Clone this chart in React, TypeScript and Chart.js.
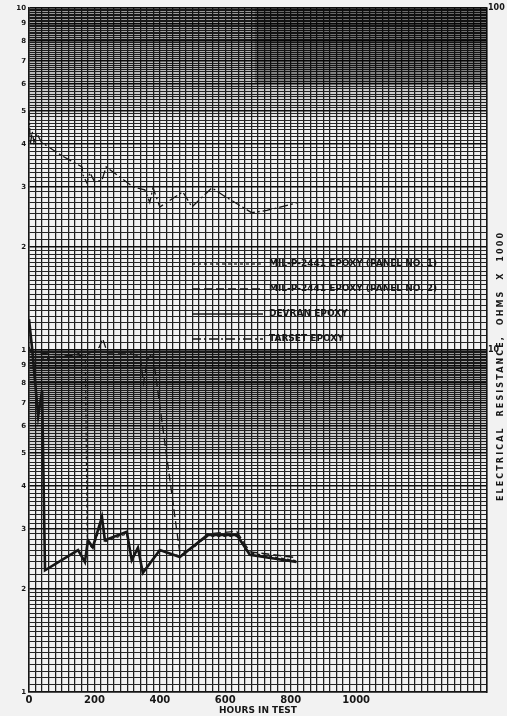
import { useEffect, useRef } from 'react';
import { Chart, registerables } from 'chart.js';

Chart.register(...registerables);

// ---- data (hours in test vs electrical resistance, ohms x 1000) ----
const xTickLabels = ['0', '200', '400', '600', '800', '1000'];
const rightTickLabels = ['10', '100'];

const panel1Hours = [0, 15, 40, 80, 120, 160, 172, 178, 195, 223, 232, 299, 314, 333, 348, 400, 461, 546, 635, 675, 818];
const panel1Values = [10.2, 9.6, 9.4, 9.5, 9.6, 9.8, 9.9, 2.75, 2.62, 3.15, 2.75, 2.9, 2.45, 2.62, 2.25, 2.58, 2.5, 2.85, 2.85, 2.55, 2.42];

const panel2Hours = [0, 30, 80, 150, 200, 215, 225, 240, 300, 340, 350, 362, 378, 461, 500, 546, 635, 675, 818];
const panel2Values = [10.0, 9.8, 9.7, 9.6, 9.9, 10.2, 10.8, 9.8, 9.8, 9.6, 8.0, 9.4, 9.8, 2.55, 2.62, 2.9, 2.95, 2.57, 2.47];

const devranHours = [0, 10, 28, 40, 49, 150, 171, 180, 195, 223, 232, 299, 314, 333, 348, 400, 461, 546, 635, 675, 818];
const devranValues = [12.3, 10.0, 6.4, 7.6, 2.27, 2.6, 2.4, 2.78, 2.65, 3.25, 2.78, 2.94, 2.43, 2.64, 2.23, 2.6, 2.48, 2.88, 2.88, 2.52, 2.4];

const tarsetHours = [0, 4, 10, 15, 24, 38, 100, 162, 165, 177, 186, 201, 223, 236, 318, 354, 369, 379, 400, 470, 498, 559, 592, 681, 727, 818];
const tarsetValues = [50, 40, 43.5, 40.5, 43, 40.5, 37, 34.3, 32.5, 30.8, 33.0, 31.0, 31.4, 34.3, 30.0, 29.4, 27.0, 29.8, 26.2, 29.0, 26.2, 29.8, 28.4, 25.2, 25.6, 26.9];

const seriesNames = [
  'MIL-P-2441 EPOXY (PANEL NO. 1)',
  'MIL-P-2441 EPOXY (PANEL NO. 2)',
  'DEVRAN EPOXY',
  'TARSET EPOXY',
];

const FONT = '"DejaVu Sans", "Liberation Sans", sans-serif';
const INK = '#161616';

function yGridValues(): number[] {
  const out: number[] = [];
  for (const d of [1, 10]) {
    for (let i = 0; i < 20; i++) out.push(d * (1 + i * 0.05));
    for (let i = 0; i < 30; i++) out.push(d * (2 + i * 0.1));
    for (let i = 0; i < 50; i++) out.push(d * (5 + i * 0.1));
  }
  out.push(100);
  return out.map((v) => Math.round(v * 1000) / 1000);
}

function xGridValues(): number[] {
  const out: number[] = [];
  for (let h = 0; h <= 1400; h += 20) out.push(h);
  return out;
}

const isWhole = (v: number) => Math.abs(v - Math.round(v)) < 1e-6;

function leftLabel(v: number): string {
  if (v < 10) return isWhole(v) ? String(Math.round(v)) : '';
  const t = v / 10;
  return isWhole(t) ? String(Math.round(t)) : '';
}

const pts = (hs: number[], vs: number[]) => hs.map((h, i) => ({ x: h, y: vs[i] }));

const backgroundPlugin = {
  id: 'paper',
  beforeDraw(chart: any) {
    const { ctx, width, height } = chart;
    ctx.save();
    ctx.fillStyle = '#f2f2f2';
    ctx.fillRect(0, 0, width, height);
    ctx.restore();
  },
  beforeDatasetsDraw(chart: any) {
    const { ctx, scales, chartArea } = chart;
    const x = scales.x;
    const y = scales.y;
    ctx.save();
    // scanned-paper darkening of the dense top of each decade
    for (const d of [10, 1]) {
      const yTop = y.getPixelForValue(d * 10);
      const yMid = y.getPixelForValue(d * 6);
      const yEnd = y.getPixelForValue(d * 4.5);
      const g = ctx.createLinearGradient(0, yTop, 0, yEnd);
      g.addColorStop(0, 'rgba(0,0,0,0.38)');
      g.addColorStop((yMid - yTop) / (yEnd - yTop), 'rgba(0,0,0,0.2)');
      g.addColorStop(1, 'rgba(0,0,0,0)');
      ctx.fillStyle = g;
      ctx.fillRect(chartArea.left, yTop, chartArea.right - chartArea.left, yEnd - yTop);
    }
    ctx.fillStyle = 'rgba(0,0,0,0.3)';
    const x0 = x.getPixelForValue(690);
    const x1 = x.getPixelForValue(1400);
    const y0 = y.getPixelForValue(100);
    const y1 = y.getPixelForValue(60);
    ctx.fillRect(x0, y0, x1 - x0, y1 - y0);
    ctx.restore();
  },
};

const legendPlugin = {
  id: 'innerLegend',
  afterDatasetsDraw(chart: any) {
    const { ctx } = chart;
    const rows = [264, 289, 314, 339];
    ctx.save();
    chart.data.datasets.forEach((ds: any, i: number) => {
      const yy = rows[i];
      ctx.strokeStyle = INK;
      ctx.lineWidth = Math.min(ds.borderWidth, 1.6);
      ctx.setLineDash(ds.borderDash || []);
      ctx.beginPath();
      ctx.moveTo(192, yy);
      ctx.lineTo(263, yy);
      ctx.stroke();
      ctx.setLineDash([]);
      ctx.fillStyle = INK;
      ctx.font = `bold 9px ${FONT}`;
      ctx.textBaseline = 'middle';
      ctx.textAlign = 'left';
      ctx.fillText(ds.label, 269, yy);
    });
    ctx.restore();
  },
  afterDraw(chart: any) {
    const { ctx } = chart;
    const text = 'ELECTRICAL  RESISTANCE,  OHMS  X  1000';
    ctx.save();
    ctx.font = `bold 8px ${FONT}`;
    ctx.fillStyle = INK;
    const w = ctx.measureText(text).width;
    const target = 268;
    const spacing = Math.max(0, (target - w) / (text.length - 1));
    (ctx as any).letterSpacing = `${spacing}px`;
    ctx.translate(501, 366);
    ctx.rotate(-Math.PI / 2);
    ctx.textAlign = 'center';
    ctx.textBaseline = 'middle';
    ctx.fillText(text, 0, 0);
    ctx.restore();
  },
};

export default function App() {
  const ref = useRef<HTMLCanvasElement | null>(null);

  useEffect(() => {
    if (!ref.current) return;
    const yGrid = yGridValues();
    const xGrid = xGridValues();
    const base = { borderColor: INK, pointRadius: 0, tension: 0, fill: false, yAxisID: 'y' };
    const chart = new Chart(ref.current, {
      type: 'line',
      data: {
        datasets: [
          { ...base, label: seriesNames[0], data: pts(panel1Hours, panel1Values), borderWidth: 1.2, borderDash: [3, 3] },
          { ...base, label: seriesNames[1], data: pts(panel2Hours, panel2Values), borderWidth: 1.3, borderDash: [8, 4] },
          { ...base, label: seriesNames[2], data: pts(devranHours, devranValues), borderWidth: 2.6, borderDash: [] },
          { ...base, label: seriesNames[3], data: pts(tarsetHours, tarsetValues), borderWidth: 1.3, borderDash: [9, 3, 2, 3] },
        ] as any,
      },
      options: {
        animation: false,
        responsive: false,
        devicePixelRatio: 1,
        layout: { padding: { top: 8, left: 0, right: 0, bottom: 0 } },
        plugins: { legend: { display: false }, tooltip: { enabled: false } },
        scales: {
          x: {
            type: 'linear',
            min: 0,
            max: 1400,
            afterBuildTicks: (s: any) => { s.ticks = xGrid.map((v) => ({ value: v })); },
            afterFit: (s: any) => { s.height = 24; },
            ticks: {
              autoSkip: false,
              maxRotation: 0,
              minRotation: 0,
              padding: 2,
              color: INK,
              font: { family: FONT, size: 10, weight: 'bold' },
              callback: (v: any) => (xTickLabels.includes(String(v)) ? String(v) : ''),
            },
            grid: { color: '#1e1e1e', lineWidth: 1.25, drawTicks: false },
            border: { display: true, color: INK, width: 1.5 },
            title: {
              display: true,
              text: 'HOURS IN TEST',
              color: INK,
              font: { family: FONT, size: 9, weight: 'bold' },
              padding: { top: 0, bottom: 0 },
            },
          },
          y: {
            type: 'logarithmic',
            position: 'left',
            min: 1,
            max: 100,
            afterBuildTicks: (s: any) => { s.ticks = yGrid.map((v) => ({ value: v })); },
            afterFit: (s: any) => { s.width = 29; },
            ticks: {
              autoSkip: false,
              padding: 3,
              color: INK,
              font: { family: FONT, size: 7, weight: 'bold' },
              callback: (v: any) => leftLabel(Number(v)),
            },
            grid: {
              drawTicks: false,
              color: (c: any) => (leftLabel(c.tick.value) ? '#0e0e0e' : '#262626'),
              lineWidth: (c: any) => (leftLabel(c.tick.value) ? 1.6 : 1.1),
            },
            border: { display: true, color: INK, width: 1.5 },
          },
          y2: {
            type: 'logarithmic',
            position: 'right',
            min: 1,
            max: 100,
            afterBuildTicks: (s: any) => { s.ticks = rightTickLabels.map((t) => ({ value: Number(t) })); },
            afterFit: (s: any) => { s.width = 20; },
            ticks: {
              autoSkip: false,
              padding: 1,
              color: INK,
              font: { family: FONT, size: 8, weight: 'bold' },
              callback: (v: any) => (rightTickLabels.includes(String(v)) ? String(v) : ''),
            },
            grid: { display: false, drawTicks: false },
            border: { display: true, color: INK, width: 1.5 },
          },
        },
      } as any,
      plugins: [backgroundPlugin, legendPlugin],
    });
    return () => chart.destroy();
  }, []);

  return (
    <div style={{ position: 'absolute', left: 0, top: 0, width: 507, height: 716, background: '#f2f2f2' }}>
      <canvas ref={ref} width={507} height={716} style={{ width: 507, height: 716, display: 'block' }} />
    </div>
  );
}
